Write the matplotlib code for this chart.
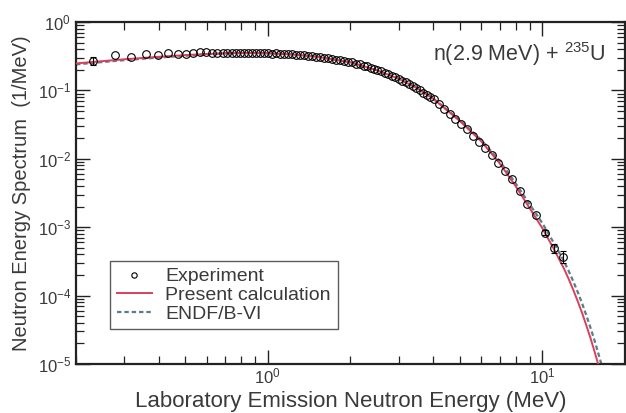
import matplotlib
matplotlib.use("Agg")
import matplotlib.pyplot as plt
from matplotlib.ticker import LogLocator, NullFormatter

plt.rcParams['font.family'] = ['Liberation Sans', 'DejaVu Sans']
plt.rcParams['mathtext.fontset'] = 'custom'
plt.rcParams['mathtext.rm'] = 'Liberation Sans'
plt.rcParams['mathtext.default'] = 'regular'
plt.rcParams['axes.unicode_minus'] = False

# present calculation (red solid)
calc_e = [0.2, 0.25, 0.3, 0.4, 0.5, 0.6, 0.7, 0.8, 0.9, 1.0, 1.2, 1.5, 2.0, 2.5, 3.0,
          3.5, 4.0, 5.0, 6.0, 7.0, 8.0, 9.0, 10.0, 11.0, 12.0, 12.5, 13.0, 13.5, 14.0,
          14.5, 15.0, 15.5, 16.0, 16.5]
calc_y = [0.248, 0.268, 0.285, 0.310, 0.328, 0.341, 0.349, 0.352, 0.352, 0.349, 0.338,
          0.312, 0.258, 0.197, 0.148, 0.108, 0.076, 0.036, 0.0180, 0.0086, 0.0040,
          0.0019, 0.00098, 0.00049, 0.00025, 0.000174, 0.000120, 0.0000813, 0.000055,
          0.0000363, 0.000024, 0.0000155, 0.0000100, 0.0000063]

# ENDF/B-VI (dashed)
endf_e = [0.2, 0.25, 0.3, 0.4, 0.5, 0.6, 0.7, 0.8, 0.9, 1.0, 1.2, 1.5, 2.0, 2.5, 3.0,
          3.5, 4.0, 5.0, 6.0, 7.0, 8.0, 9.0, 10.0, 11.0, 12.0, 12.5, 13.0, 13.5, 14.0,
          14.5, 15.0, 15.5, 16.0, 16.5, 17.0]
endf_y = [0.240, 0.260, 0.277, 0.302, 0.321, 0.338, 0.348, 0.352, 0.352, 0.349, 0.338,
          0.312, 0.258, 0.197, 0.149, 0.109, 0.077, 0.037, 0.0189, 0.0093, 0.0044,
          0.00217, 0.00116, 0.00060, 0.000320, 0.000228, 0.000160, 0.000111, 0.000076,
          0.000051, 0.0000340, 0.0000225, 0.0000146, 0.0000094, 0.0000058]

# experiment (open circles)
exp_e = [0.23, 0.278, 0.318, 0.359, 0.397, 0.434, 0.471, 0.503, 0.536, 0.567, 0.595,
         0.626, 0.655, 0.684, 0.713, 0.74, 0.765, 0.79, 0.817, 0.845, 0.874, 0.904,
         0.935, 0.967, 1.0, 1.034, 1.07, 1.106, 1.144, 1.183, 1.223, 1.265, 1.308,
         1.353, 1.399, 1.447, 1.496, 1.547, 1.6, 1.654, 1.71, 1.769, 1.829, 1.891,
         1.956, 2.022, 2.091, 2.162, 2.236, 2.30, 2.37, 2.44, 2.51, 2.59, 2.67, 2.75,
         2.83, 2.91, 3.0, 3.09, 3.18, 3.28, 3.38, 3.48, 3.58, 3.69, 3.80, 3.91, 4.02,
         4.2, 4.4, 4.6, 4.8, 5.05, 5.3, 5.6, 5.9, 6.2, 6.55, 6.9, 7.3, 7.75, 8.32,
         8.84, 9.51, 10.26, 11.0, 11.88]
exp_y = [0.272, 0.330, 0.310, 0.337, 0.330, 0.356, 0.344, 0.340, 0.356, 0.368, 0.368,
         0.357, 0.352, 0.355, 0.353, 0.356, 0.352, 0.357, 0.350, 0.348, 0.355, 0.351,
         0.354, 0.349, 0.352, 0.346, 0.348, 0.342, 0.344, 0.339, 0.337, 0.334, 0.330,
         0.326, 0.321, 0.318, 0.310, 0.307, 0.300, 0.296, 0.289, 0.283, 0.275, 0.270,
         0.262, 0.256, 0.246, 0.240, 0.230, 0.224, 0.214, 0.207, 0.198, 0.190, 0.181,
         0.173, 0.165, 0.156, 0.147, 0.139, 0.131, 0.123, 0.115, 0.108, 0.101, 0.093,
         0.086, 0.079, 0.074, 0.063, 0.053, 0.045, 0.038, 0.032, 0.027, 0.0218, 0.0178,
         0.0143, 0.0112, 0.0088, 0.0066, 0.0050, 0.0034, 0.0022, 0.0015, 0.00083,
         0.00049, 0.00037]

# points that carry visible error bars
err_e = [0.23, 10.26, 11.0, 11.88]
err_y = [0.272, 0.00083, 0.00049, 0.00037]
err_lo = [0.035, 0.00006, 0.00007, 0.00007]
err_hi = [0.037, 0.00007, 0.00008, 0.00008]

red = '#d8405c'
blue = '#5a7d88'
txt = '#3a3a3a'

fig = plt.figure(figsize=(6.26, 4.13), dpi=100)
ax = fig.add_axes([0.1214, 0.1186, 0.8766, 0.8281])

ax.plot(calc_e, calc_y, color=red, lw=1.4, label='Present calculation', zorder=3)
ax.plot(endf_e, endf_y, color=blue, lw=1.6, ls=(0, (2, 1.3)), label='ENDF/B-VI', zorder=2)
ax.errorbar(err_e, err_y, yerr=[err_lo, err_hi], fmt='none', ecolor='k',
            elinewidth=0.8, capsize=2.5, capthick=0.8, zorder=4)
ax.plot(exp_e, exp_y, ls='none', marker='o', ms=5.5, mfc='none', mec='k', mew=0.8,
        label='Experiment', zorder=5)

ax.set_xscale('log')
ax.set_yscale('log')
ax.set_xlim(0.2, 20)
ax.set_ylim(1e-5, 1)

ax.xaxis.set_minor_locator(LogLocator(base=10, subs=range(2, 10)))
ax.yaxis.set_minor_locator(LogLocator(base=10, subs=range(2, 10), numticks=20))
ax.yaxis.set_major_locator(LogLocator(base=10, numticks=20))
ax.xaxis.set_minor_formatter(NullFormatter())
ax.yaxis.set_minor_formatter(NullFormatter())

ax.tick_params(which='both', direction='in', top=True, right=True, colors='#222222',
               labelcolor=txt, labelsize=12)
ax.tick_params(which='major', length=10, width=1.0)
ax.tick_params(which='minor', length=5.5, width=0.9)
ax.tick_params(axis='x', pad=2)
for s in ax.spines.values():
    s.set_linewidth(1.6)
    s.set_color('#222222')

ax.set_xlabel('Laboratory Emission Neutron Energy (MeV)', fontsize=16, color=txt, labelpad=3)
ax.set_ylabel('Neutron Energy Spectrum  (1/MeV)', fontsize=14.5, color=txt, labelpad=5)

ax.text(0.965, 0.905, r'n(2.9 MeV) + $^{235}$U', transform=ax.transAxes, ha='right',
        va='center', fontsize=15.5, color=txt)

h, l = ax.get_legend_handles_labels()
order = [2, 0, 1]
leg = ax.legend([h[i] for i in order], [l[i] for i in order], loc='upper left',
                bbox_to_anchor=(0.062, 0.301), borderaxespad=0, fontsize=14,
                frameon=True, fancybox=False, edgecolor='#333333', labelspacing=0.05,
                handlelength=1.8, handletextpad=0.7, borderpad=0.35, markerscale=0.7)
leg.get_frame().set_linewidth(1.0)
for t in leg.get_texts():
    t.set_color(txt)

fig.savefig('out.png', dpi=100)
